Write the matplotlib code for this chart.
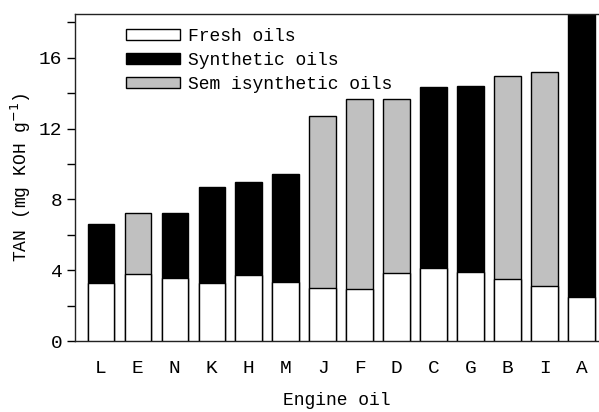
import matplotlib
matplotlib.use("Agg")
import matplotlib.pyplot as plt
from matplotlib.ticker import MultipleLocator
from matplotlib.patches import Patch

plt.rcParams['font.family'] = ['Liberation Mono', 'DejaVu Sans Mono']

oils = ['L', 'E', 'N', 'K', 'H', 'M', 'J', 'F', 'D', 'C', 'G', 'B', 'I', 'A']
fresh = [3.28, 3.77, 3.54, 3.26, 3.75, 3.32, 2.98, 2.96, 3.82, 4.11, 3.90, 3.50, 3.11, 2.49]
used_total = [6.59, 7.25, 7.25, 8.70, 8.97, 9.45, 12.69, 13.65, 13.65, 14.35, 14.41, 14.99, 15.18, 19.0]
oil_type = ['syn', 'semi', 'syn', 'syn', 'syn', 'syn', 'semi', 'semi', 'semi',
            'syn', 'syn', 'semi', 'semi', 'syn']

colors = {'syn': 'black', 'semi': '#c0c0c0'}

fig = plt.figure(figsize=(5.99, 4.12), dpi=100)
ax = fig.add_axes([75 / 599, 1 - 341 / 412, 1 - 75 / 599, (341 - 14) / 412])

x = list(range(len(oils)))
w = 0.72
# used oil bars behind, fresh oil part drawn on top from zero
ax.bar(x, used_total, width=w, color=[colors[t] for t in oil_type],
       edgecolor='black', linewidth=1.0, zorder=2)
ax.bar(x, fresh, width=w, color='white', edgecolor='black', linewidth=1.0, zorder=3)

ax.set_xlim(-0.7, 13.47)
ax.set_ylim(0, 18.47)
ax.yaxis.set_major_locator(MultipleLocator(4))
ax.yaxis.set_minor_locator(MultipleLocator(2))
ax.set_xticks(x)
ax.set_xticklabels(oils)
ax.tick_params(axis='x', length=0, pad=14, labelsize=14)
ax.tick_params(axis='y', which='both', direction='out', length=6, width=1, labelsize=14, pad=3)

ax.spines['right'].set_visible(False)
for s in ['left', 'bottom', 'top']:
    ax.spines[s].set_linewidth(1.0)
    ax.spines[s].set_color('#222222')

ax.set_ylabel('TAN (mg KOH g$^{-1}$)', fontsize=13, labelpad=4)
ax.set_xlabel('Engine oil', fontsize=13, labelpad=10.5)

handles = [Patch(facecolor='white', edgecolor='black', linewidth=1.0),
           Patch(facecolor='black', edgecolor='black', linewidth=1.0),
           Patch(facecolor='#c0c0c0', edgecolor='black', linewidth=1.0)]
ax.legend(handles, ['Fresh oils', 'Synthetic oils', 'Sem isynthetic oils'],
          loc='upper left', bbox_to_anchor=(0.084, 0.98), frameon=False,
          fontsize=13, handlelength=2.95, handleheight=0.55, handletextpad=0.45,
          labelspacing=0.4, borderaxespad=0)

fig.savefig('out.png', dpi=100)
